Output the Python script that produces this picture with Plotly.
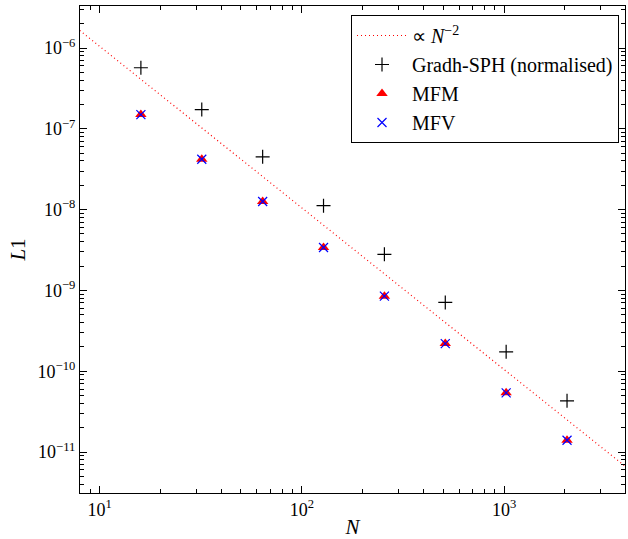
import plotly.graph_objects as go

N = [16, 32, 64, 128, 256, 512, 1024, 2048]
gradh_sph = [5.7e-7, 1.73e-7, 4.5e-8, 1.12e-8, 2.8e-9, 7.1e-10, 1.74e-10, 4.3e-11]
mfm = [1.5e-7, 4.2e-8, 1.26e-8, 3.4e-9, 8.5e-10, 2.2e-10, 5.4e-11, 1.4e-11]
mfv = [1.5e-7, 4.2e-8, 1.26e-8, 3.4e-9, 8.5e-10, 2.2e-10, 5.4e-11, 1.4e-11]
ref_coeff = 1.05e-4
ref_N = [6, 6000]
ref_L1 = [ref_coeff * n ** -2 for n in ref_N]

x_tickvals = [10, 100, 1000]
x_ticktext = ["10<sup>1</sup>", "10<sup>2</sup>", "10<sup>3</sup>"]
y_tickvals = [1e-11, 1e-10, 1e-9, 1e-8, 1e-7, 1e-6]
y_ticktext = ["10<sup>−11</sup>", "10<sup>−10</sup>", "10<sup>−9</sup>",
              "10<sup>−8</sup>", "10<sup>−7</sup>", "10<sup>−6</sup>"]
minor_mult = [2, 3, 4, 5, 6, 7, 8, 9]
x_minor = [m * 10.0 ** e for e in range(0, 4) for m in minor_mult]
y_minor = [m * 10.0 ** e for e in range(-12, -5) for m in minor_mult]

FONT = "Liberation Serif"

fig = go.Figure()
fig.add_trace(go.Scatter(x=ref_N, y=ref_L1, mode="lines", name="∝ <i>N</i><sup>−2</sup>",
                         line=dict(color="red", dash="1px,3px", width=1.2)))
fig.add_trace(go.Scatter(x=N, y=gradh_sph, mode="markers", name="Gradh-SPH (normalised)",
                         marker=dict(symbol="cross-thin", size=10, color="black",
                                     line=dict(color="black", width=1.2))))
fig.add_trace(go.Scatter(x=N, y=mfm, mode="markers", name="MFM",
                         marker=dict(symbol="triangle-up", size=10, color="red",
                                     line=dict(width=0))))
fig.add_trace(go.Scatter(x=N, y=mfv, mode="markers", name="MFV",
                         marker=dict(symbol="x-thin", size=9, color="blue",
                                     line=dict(color="blue", width=1.2))))

axis_common = dict(
    type="log", showgrid=False, zeroline=False, showline=True, linecolor="black",
    linewidth=1.2, mirror="allticks", ticks="inside", ticklen=7, tickwidth=1,
    tickcolor="black", automargin=False,
    tickfont=dict(family=FONT, size=18, color="black"),
)

fig.update_layout(
    width=628, height=539,
    margin=dict(l=80, r=3, t=6, b=46),
    plot_bgcolor="white", paper_bgcolor="white",
    font=dict(family=FONT, size=18, color="black"),
    xaxis=dict(axis_common, range=[0.903, 3.598], tickmode="array",
               tickvals=x_tickvals, ticktext=x_ticktext,
               minor=dict(tickmode="array", tickvals=x_minor, ticks="inside", ticklen=3.5,
                          tickwidth=0.8, tickcolor="black", showgrid=False),
               title=dict(text="<i>N</i>", font=dict(family=FONT, size=21), standoff=4)),
    yaxis=dict(axis_common, range=[-11.507, -5.48], tickmode="array",
               tickvals=y_tickvals, ticktext=y_ticktext,
               minor=dict(tickmode="array", tickvals=y_minor, ticks="inside", ticklen=3.5,
                          tickwidth=0.8, tickcolor="black", showgrid=False),
               title=dict(text="<i>L</i>1", font=dict(family=FONT, size=21), standoff=6)),
    legend=dict(x=0.989, y=0.9815, xanchor="right", yanchor="top",
                bordercolor="black", borderwidth=1, bgcolor="white",
                font=dict(family=FONT, size=20), tracegroupgap=0, itemwidth=50),
    showlegend=True,
)

fig.write_html("out.html")
